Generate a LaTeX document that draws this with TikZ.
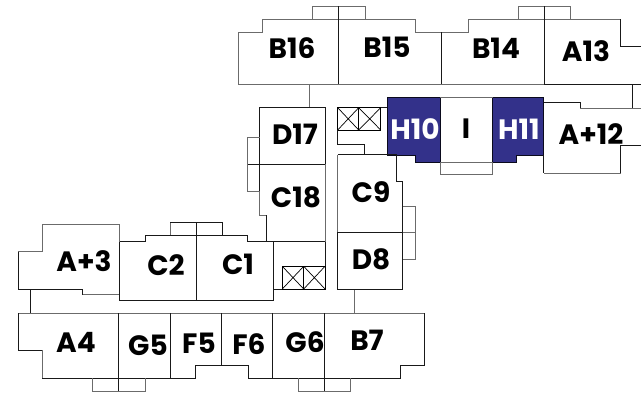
\documentclass[tikz,border=0pt]{standalone}
\usepackage{fontspec}
\setmainfont{Poppins}
\definecolor{unitblue}{HTML}{33318A}
\tikzset{
    wall/.style={draw=black!90, line width=0.9pt, line join=miter},
    softwall/.style={draw=black!58, line width=1pt},
    unitlabel/.style={font=\fontsize{28}{28}\bfseries\selectfont, inner sep=0pt, text=black},
    hotlabel/.style={unitlabel, text=white},
    hotunit/.style={fill=unitblue, draw=black!80!unitblue, line width=0.7pt},
    liftbox/.style={draw=black, line width=0.7pt},
}
\begin{document}
\begin{tikzpicture}[x=1pt, y=-1pt]
    \useasboundingbox (0,0) rectangle (641,394);
    
    % Top row
    \draw[softwall] (312,19) -- (312,6) -- (365,6) -- (365,19);
    \draw[softwall] (238.5,32) -- (262,32) -- (262,19) -- (415,19) -- (415,32) -- (442,32);
    \draw[softwall] (518,19) -- (518,6) -- (570,6) -- (570,19);
    \draw[softwall] (442,32) -- (468,32) -- (468,19) -- (620.5,19);
    \draw[softwall] (238.5,32) -- (238.5,84) -- (641,84);
    \draw[wall] (620.5,19) -- (620.5,46.5) -- (641,46.5);
    \draw[wall] (338.5,6) -- (338.5,84);
    \draw[wall] (441.5,32) -- (441.5,84);
    \draw[wall] (544,6) -- (544,84);
    \draw[wall] (544,84) -- (641,84);
    
    % Links between wings
    \draw[softwall] (309,84) -- (309,107.7);
    \draw[wall] (632,84) -- (632,108);
    \draw[softwall] (354,289) -- (354,313);
    \draw[wall] (30.3,289.3) -- (30.3,313);
    
    % Highlighted units
    \fill[white] (440,97) rectangle (492.5,162);
    \draw[hotunit] (387.3,97) -- (440,97) -- (440,162) -- (415,162) -- (415,155) -- (387.3,155) -- cycle;
    \draw[hotunit] (492.5,97) -- (543.5,97) -- (543.5,155) -- (516.7,155) -- (516.7,162) -- (492.5,162) -- cycle;
    \draw[softwall] (440,97) -- (492.5,97);
    \draw[softwall] (440,162) -- (492.5,162);
    \draw[softwall] (440,162) -- (440,174.7) -- (492.5,174.7) -- (492.5,162);
    
    % Right wing
    \draw[wall] (543.5,102.5) -- (580,102.5) -- (580,108);
    \draw[softwall] (580,108) -- (641,108);
    \draw[wall] (641,145) -- (620.5,145) -- (620.5,173);
    \draw[softwall] (620.5,173) -- (543.5,173);
    \draw[wall] (543.5,155) -- (543.5,173);
    
    % Core next to H10
    \draw[liftbox] (337.7,107.7) rectangle (358.7,130);
    \draw[liftbox] (358.7,107.7) rectangle (380.7,130);
    \draw[liftbox] (337.7,107.7) -- (358.7,130) (358.7,107.7) -- (337.7,130);
    \draw[liftbox] (358.7,107.7) -- (380.7,130) (380.7,107.7) -- (358.7,130);
    \draw[wall] (380.7,107.7) -- (387.3,107.7);
    \draw[wall] (337.7,130) -- (337.7,144) -- (364.3,144) -- (364.3,154.7);
    
    % C9 and D8
    \draw[softwall] (337.7,232.3) -- (337.7,154.7);
    \draw[wall] (337.7,154.7) -- (396.3,154.7) -- (396.3,181.7) -- (402.7,181.7) -- (402.7,289) -- (337.7,289) -- (337.7,232.3) -- (402.7,232.3);
    \draw[softwall] (402.7,206) -- (415.7,206) -- (415.7,259) -- (402.7,259);
    \draw[softwall] (402.7,232.3) -- (415.7,232.3);
    
    % D17 and C18
    \draw[wall] (259.7,191) -- (259.7,107.7) -- (325,107.7) -- (325,164.3);
    \draw[wall] (247,164.3) -- (325,164.3);
    \draw[softwall] (259.7,137.7) -- (247,137.7) -- (247,191) -- (259.7,191);
    \draw[softwall] (259.7,191) -- (259.7,215) -- (266.7,215);
    \draw[wall] (266.7,215) -- (266.7,241.7);
    \draw[softwall] (325,164.3) -- (325,241.7);
    \draw[wall] (325,241.7) -- (325,289) -- (273.3,289);
    
    % Core next to C1
    \draw[liftbox] (282.3,266.3) rectangle (303.7,289);
    \draw[liftbox] (303.7,266.3) rectangle (325,289);
    \draw[liftbox] (282.3,266.3) -- (303.7,289) (303.7,266.3) -- (282.3,289);
    \draw[liftbox] (303.7,266.3) -- (325,289) (325,266.3) -- (303.7,289);
    
    % C2 and C1
    \draw[softwall] (170,235.5) -- (170,222.3);
    \draw[wall] (170,222.3) -- (222.7,222.3) -- (222.7,235.5);
    \draw[wall] (119.3,241.7) -- (145.7,241.7) -- (145.7,235.5) -- (247,235.5) -- (247,241.7) -- (325,241.7);
    \draw[wall] (273.3,241.7) -- (273.3,300) -- (119.3,300) -- (119.3,241.7);
    \draw[wall] (196.7,222.3) -- (196.7,300);
    
    % A+3
    \draw[softwall] (119.3,241.7) -- (119.3,224) -- (42.3,224) -- (42.3,251.7) -- (18.3,251.7);
    \draw[wall] (18.3,251.7) -- (18.3,289.3) -- (82.7,289.3) -- (82.7,294.7);
    \draw[softwall] (82.7,294.7) -- (119.3,294.7);
    
    % Bottom row
    \draw[softwall] (18.3,313) -- (424.7,313);
    \draw[wall] (18.3,313) -- (18.3,350.3) -- (42.3,350.3);
    \draw[softwall] (42.3,350.3) -- (42.3,378);
    \draw[wall] (42.3,378) -- (195.3,378) -- (195.3,365) -- (248,365) -- (248,378) -- (400.7,378) -- (400.7,365) -- (424.7,365) -- (424.7,313);
    \draw[softwall] (92.3,378) -- (92.3,391) -- (145.3,391) -- (145.3,378);
    \draw[softwall] (298,378) -- (298,391) -- (350.7,391) -- (350.7,378);
    \draw[wall] (118.3,313) -- (118.3,391);
    \draw[wall] (170.3,313) -- (170.3,378);
    \draw[wall] (221.3,313) -- (221.3,365);
    \draw[wall] (272.7,313) -- (272.7,378);
    \draw[wall] (324.3,313) -- (324.3,391);
    
    % Unit labels
    \node[unitlabel] (b16) at (292,48) {B16};
    \node[unitlabel] (b15) at (387,47.5) {B15};
    \node[unitlabel] (b14) at (496,48) {B14};
    \node[unitlabel] (a13) at (586,51) {A13};
    \node[unitlabel] (d17) at (295,134.5) {D17};
    \node[unitlabel] (c18) at (296,197) {C18};
    \node[unitlabel] (c9) at (371,192) {C9};
    \node[unitlabel] (d8) at (371,259) {D8};
    \node[hotlabel] (h10) at (415,129) {H10};
    \node[unitlabel] (i) at (466,129) {I};
    \node[hotlabel] (h11) at (519,129) {H11};
    \node[unitlabel] (a12) at (591,134) {A+12};
    \node[unitlabel] (a3) at (84,261) {A+3};
    \node[unitlabel] (c2) at (166,265) {C2};
    \node[unitlabel] (c1) at (238,264) {C1};
    \node[unitlabel] (a4) at (76,342) {A4};
    \node[unitlabel] (g5) at (148,345) {G5};
    \node[unitlabel] (f5) at (199,343) {F5};
    \node[unitlabel] (f6) at (249,344) {F6};
    \node[unitlabel] (g6) at (305,342) {G6};
    \node[unitlabel] (b7) at (367,340) {B7};
\end{tikzpicture}
\end{document}
